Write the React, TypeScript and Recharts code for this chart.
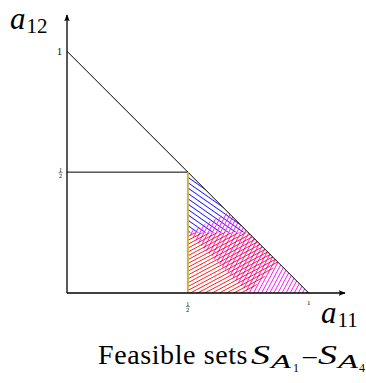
import React from 'react';
import { ComposedChart, Area, Line, XAxis, YAxis } from 'recharts';

// ---- data ----
const xTicks = [0.5, 1];
const yTicks = [0.5, 1];
const diagonal = [{ x: 0, y: 1 }, { x: 1, y: 0 }];
const halfLine = [{ x: 0, y: 0.5 }, { x: 0.5, y: 0.5 }];
const setA4 = [{ x: 0.5, y: 0 }, { x: 0.5, y: 0.5 }];
const setA1 = [
  { x: 0.5, band: [0.25, 0.5] },
  { x: 0.75, band: [0.25, 0.25] },
];
const setA2 = [
  { x: 0.5, band: [0.25, 0.25] },
  { x: 2 / 3, band: [1 / 12, 1 / 3] },
  { x: 0.75, band: [0, 0.25] },
  { x: 1, band: [0, 0] },
];
const setA3 = [
  { x: 0.5, band: [0, 0.25] },
  { x: 0.75, band: [0, 0.25] },
  { x: 0.875, band: [0.125, 0.125] },
];

const SERIF = '"Liberation Serif", "DejaVu Serif", serif';

const XTick = (props: any) => {
  const { x, y, payload } = props;
  if (payload.value === 1) {
    return (
      <text x={x} y={y + 12} textAnchor="middle" fontSize={7} fontFamily={SERIF} fill="#000">1</text>
    );
  }
  return (
    <g>
      <text x={x} y={y + 12.5} textAnchor="middle" fontSize={6} fontFamily={SERIF} fill="#000">1</text>
      <line x1={x - 2} x2={x + 2} y1={y + 13.6} y2={y + 13.6} stroke="#000" strokeWidth={0.5} />
      <text x={x} y={y + 18.5} textAnchor="middle" fontSize={6} fontFamily={SERIF} fill="#000">2</text>
    </g>
  );
};

const YTick = (props: any) => {
  const { x, y, payload } = props;
  if (payload.value === 1) {
    return (
      <text x={x - 5} y={y + 3.5} textAnchor="end" fontSize={10} fontFamily={SERIF} fill="#000">1</text>
    );
  }
  return (
    <g>
      <text x={x - 6.5} y={y - 0.3} textAnchor="middle" fontSize={6} fontFamily={SERIF} fill="#000">1</text>
      <line x1={x - 8.5} x2={x - 4.5} y1={y + 0.6} y2={y + 0.6} stroke="#000" strokeWidth={0.5} />
      <text x={x - 6.5} y={y + 6.2} textAnchor="middle" fontSize={6} fontFamily={SERIF} fill="#000">2</text>
    </g>
  );
};

export default function App() {
  return (
    <div style={{ position: 'absolute', left: 0, top: 0, width: 366, height: 383, background: '#fff' }}>
      <ComposedChart width={366} height={383} margin={{ top: 15, right: 21, bottom: 70, left: 47 }}>
        <defs>
          <marker id="arrowHead" viewBox="0 0 10 10" refX="9" refY="5" markerWidth="7" markerHeight="7"
            markerUnits="userSpaceOnUse" orient="auto-start-reverse">
            <path d="M0,1 L10,5 L0,9 L2,5 z" fill="#000" />
          </marker>
          <pattern id="hatchBlue" patternUnits="userSpaceOnUse" width="10" height="4.4" patternTransform="rotate(35)">
            <line x1="-1" y1="2" x2="11" y2="2" stroke="#0000ff" strokeWidth="0.9" shapeRendering="crispEdges" />
          </pattern>
          <pattern id="hatchMagenta" patternUnits="userSpaceOnUse" width="10" height="3.6" patternTransform="rotate(-62)">
            <line x1="-1" y1="1.6" x2="11" y2="1.6" stroke="#ff00ff" strokeWidth="0.9" shapeRendering="crispEdges" />
          </pattern>
          <pattern id="hatchRed" patternUnits="userSpaceOnUse" width="10" height="3.4" patternTransform="rotate(-28)">
            <line x1="-1" y1="1.5" x2="11" y2="1.5" stroke="#ff0000" strokeWidth="0.9" shapeRendering="crispEdges" />
          </pattern>
        </defs>
        <XAxis
          dataKey="x"
          type="number"
          domain={[0, 1.15]}
          allowDataOverflow
          ticks={xTicks}
          tick={<XTick />}
          tickLine={false}
          tickSize={0}
          tickMargin={0}
          height={20}
          axisLine={{ stroke: '#000', strokeWidth: 1.3, markerEnd: 'url(#arrowHead)' } as any}
        />
        <YAxis
          type="number"
          domain={[0, 1.15]}
          allowDataOverflow
          ticks={yTicks}
          tick={<YTick />}
          tickLine={false}
          tickSize={0}
          tickMargin={0}
          width={20}
          axisLine={{ stroke: '#000', strokeWidth: 1.3, markerStart: 'url(#arrowHead)' } as any}
        />
        <Area data={setA1} dataKey="band" type="linear" stroke="none" fill="url(#hatchBlue)" fillOpacity={1} isAnimationActive={false} activeDot={false} />
        <Area data={setA2} dataKey="band" type="linear" stroke="none" fill="url(#hatchMagenta)" fillOpacity={1} isAnimationActive={false} activeDot={false} />
        <Area data={setA3} dataKey="band" type="linear" stroke="none" fill="url(#hatchRed)" fillOpacity={1} isAnimationActive={false} activeDot={false} />
        <Line data={diagonal} dataKey="y" type="linear" stroke="#000" strokeWidth={1} dot={false} activeDot={false} isAnimationActive={false} />
        <Line data={halfLine} dataKey="y" type="linear" stroke="#000" strokeWidth={1} dot={false} activeDot={false} isAnimationActive={false} />
        <Line data={setA4} dataKey="y" type="linear" stroke="#c8b44b" strokeWidth={2} dot={false} activeDot={false} isAnimationActive={false} />
      </ComposedChart>
      <svg width={366} height={383} style={{ position: 'absolute', left: 0, top: 0, pointerEvents: 'none' }}>
        <text x={10} y={29} fontFamily={SERIF} fill="#000">
          <tspan fontStyle="italic" fontSize={31}>a</tspan>
          <tspan fontSize={21} dx={1} dy={4}>12</tspan>
        </text>
        <text x={321} y={323} fontFamily={SERIF} fill="#000">
          <tspan fontStyle="italic" fontSize={31}>a</tspan>
          <tspan fontSize={21} dx={1} dy={4}>11</tspan>
        </text>
        <text x={98} y={364} fontFamily={SERIF} fontSize={28} letterSpacing={0.6} fill="#000">Feasible sets</text>
        <g fontFamily={SERIF} fill="#000">
          <text x={251} y={364} fontSize={27} fontStyle="italic" textLength={19} lengthAdjust="spacingAndGlyphs">S</text>
          <text x={271} y={368} fontSize={19} fontStyle="italic" textLength={20} lengthAdjust="spacingAndGlyphs">A</text>
          <text x={293} y={372} fontSize={12}>1</text>
          <text x={303} y={364} fontSize={27}>–</text>
          <text x={318} y={364} fontSize={27} fontStyle="italic" textLength={19} lengthAdjust="spacingAndGlyphs">S</text>
          <text x={338} y={368} fontSize={19} fontStyle="italic" textLength={20} lengthAdjust="spacingAndGlyphs">A</text>
          <text x={359} y={372} fontSize={12}>4</text>
        </g>
      </svg>
    </div>
  );
}
